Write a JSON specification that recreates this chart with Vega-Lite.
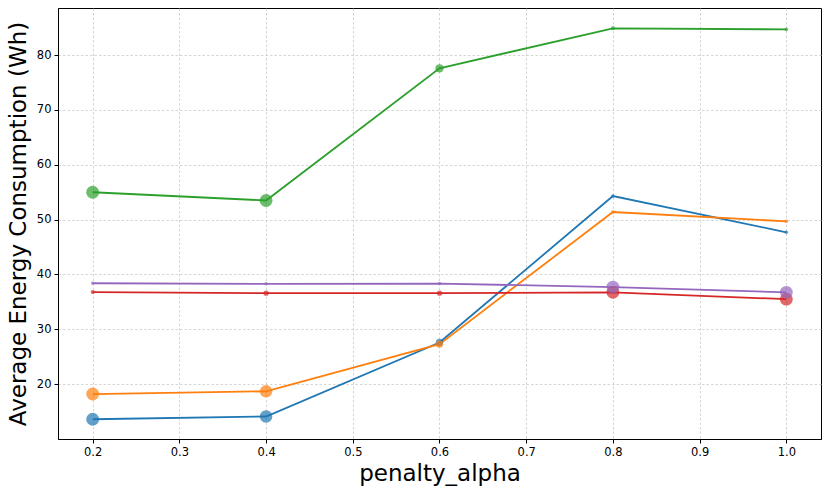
{
  "$schema": "https://vega.github.io/schema/vega-lite/v6.json",
  "width": 763,
  "height": 431,
  "autosize": {"type": "none"},
  "padding": {"left": 58, "top": 8, "right": 9, "bottom": 56},
  "background": "white",
  "view": {"stroke": "black", "strokeWidth": 1},
  "config": {
    "font": "DejaVu Sans",
    "axis": {
      "labelFont": "DejaVu Sans",
      "titleFont": "DejaVu Sans",
      "labelFontSize": 11.5,
      "labelColor": "black",
      "titleFontSize": 23,
      "titleFontWeight": "normal",
      "titleColor": "black",
      "tickColor": "black",
      "tickSize": 4,
      "domainColor": "black",
      "gridColor": "#c4c4c4",
      "gridOpacity": 1,
      "gridWidth": 0.7,
      "gridDash": [2.5, 2]
    }
  },
  "data": {
    "values": [
      {"series": "A", "penalty_alpha": 0.2, "energy": 13.6, "size": 165},
      {"series": "A", "penalty_alpha": 0.4, "energy": 14.1, "size": 155},
      {"series": "A", "penalty_alpha": 0.6, "energy": 27.6, "size": 55},
      {"series": "A", "penalty_alpha": 0.8, "energy": 54.3, "size": 13},
      {"series": "A", "penalty_alpha": 1.0, "energy": 47.7, "size": 13},
      {"series": "B", "penalty_alpha": 0.2, "energy": 18.2, "size": 165},
      {"series": "B", "penalty_alpha": 0.4, "energy": 18.7, "size": 155},
      {"series": "B", "penalty_alpha": 0.6, "energy": 27.3, "size": 50},
      {"series": "B", "penalty_alpha": 0.8, "energy": 51.4, "size": 13},
      {"series": "B", "penalty_alpha": 1.0, "energy": 49.7, "size": 13},
      {"series": "C", "penalty_alpha": 0.2, "energy": 55.0, "size": 165},
      {"series": "C", "penalty_alpha": 0.4, "energy": 53.5, "size": 165},
      {"series": "C", "penalty_alpha": 0.6, "energy": 77.6, "size": 70},
      {"series": "C", "penalty_alpha": 0.8, "energy": 84.9, "size": 16},
      {"series": "C", "penalty_alpha": 1.0, "energy": 84.7, "size": 13},
      {"series": "D", "penalty_alpha": 0.2, "energy": 36.8, "size": 16},
      {"series": "D", "penalty_alpha": 0.4, "energy": 36.6, "size": 28},
      {"series": "D", "penalty_alpha": 0.6, "energy": 36.6, "size": 28},
      {"series": "D", "penalty_alpha": 0.8, "energy": 36.75, "size": 165},
      {"series": "D", "penalty_alpha": 1.0, "energy": 35.5, "size": 165},
      {"series": "E", "penalty_alpha": 0.2, "energy": 38.4, "size": 12},
      {"series": "E", "penalty_alpha": 0.4, "energy": 38.3, "size": 12},
      {"series": "E", "penalty_alpha": 0.6, "energy": 38.35, "size": 12},
      {"series": "E", "penalty_alpha": 0.8, "energy": 37.7, "size": 165},
      {"series": "E", "penalty_alpha": 1.0, "energy": 36.75, "size": 165}
    ]
  },
  "encoding": {
    "x": {
      "field": "penalty_alpha",
      "type": "quantitative",
      "title": "penalty_alpha",
      "scale": {"domain": [0.16, 1.04], "nice": false, "zero": false},
      "axis": {
        "values": [0.2, 0.3, 0.4, 0.5, 0.6, 0.7, 0.8, 0.9, 1.0],
        "format": ".1f",
        "labelPadding": 3,
        "titlePadding": 5
      }
    },
    "y": {
      "field": "energy",
      "type": "quantitative",
      "title": "Average Energy Consumption (Wh)",
      "scale": {"domain": [10, 88.6], "nice": false, "zero": false},
      "axis": {
        "values": [20, 30, 40, 50, 60, 70, 80],
        "labelPadding": 3,
        "titlePadding": 6
      }
    },
    "color": {
      "field": "series",
      "type": "nominal",
      "scale": {
        "domain": ["A", "B", "C", "D", "E"],
        "range": ["#1f77b4", "#ff7f0e", "#2ca02c", "#d62728", "#9467bd"]
      },
      "legend": null
    }
  },
  "layer": [
    {
      "mark": {"type": "line", "strokeWidth": 1.8}
    },
    {
      "mark": {"type": "circle", "opacity": 0.7},
      "encoding": {
        "size": {"field": "size", "type": "quantitative", "scale": null}
      }
    }
  ]
}
